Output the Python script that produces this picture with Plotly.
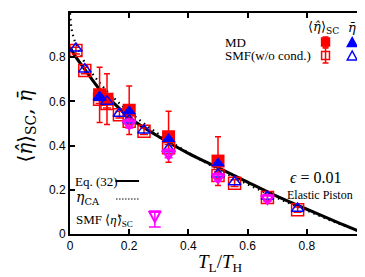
import plotly.graph_objects as go

# ---------------- data ----------------
# Eq. (32) theoretical curve (solid)
eq32_x = [0.0, 0.02, 0.05, 0.1, 0.15, 0.2, 0.3, 0.4, 0.5, 0.6, 0.7, 0.8, 0.9, 1.0]
eq32_y = [0.845, 0.80, 0.745, 0.655, 0.59, 0.527, 0.44, 0.365, 0.30, 0.235, 0.17, 0.112, 0.055, 0.0]

# Curzon-Ahlborn efficiency (dotted)
ca_x = [0.0, 0.005, 0.01, 0.02, 0.05, 0.1, 0.15, 0.2, 0.3, 0.4, 0.5, 0.6, 0.7, 0.8, 0.9, 1.0]
ca_y = [1.0, 0.93, 0.90, 0.86, 0.776, 0.684, 0.613, 0.553, 0.452, 0.368, 0.293, 0.225, 0.163, 0.106, 0.051, 0.0]

# MD <eta>_SC (filled squares with error bars)
md_sc_x = [0.1, 0.125, 0.2, 0.333, 0.5]
md_sc_y = [0.63, 0.61, 0.56, 0.44, 0.33]
md_sc_err = [0.125, 0.115, 0.11, 0.115, 0.11]

# MD eta-bar (filled triangles)
md_bar_x = [0.1, 0.2, 0.333, 0.5]
md_bar_y = [0.615, 0.555, 0.43, 0.32]

# SMF (w/o cond.) <eta>_SC (open squares)
smf_x = [0.02, 0.05, 0.1, 0.125, 0.167, 0.2, 0.25, 0.333, 0.5, 0.556, 0.667, 0.769]
smf_sc_y = [0.83, 0.74, 0.61, 0.59, 0.54, 0.51, 0.465, 0.39, 0.265, 0.23, 0.165, 0.11]
smf_sc_err = [0.015, 0.015, 0.02, 0.02, 0.015, 0.015, 0.015, 0.015, 0.015, 0.015, 0.015, 0.012]

# SMF (w/o cond.) eta-bar (open triangles)
smf_bar_y = [0.84, 0.745, 0.62, 0.60, 0.545, 0.515, 0.47, 0.385, 0.27, 0.235, 0.17, 0.115]

# SMF <eta>_SC (magenta open down-triangles)
smfc_x = [0.2, 0.333, 0.5, 0.667]
smfc_y = [0.50, 0.365, 0.257, 0.162]
smfc_err = [0.02, 0.02, 0.018, 0.015]

tick_vals = [0, 0.2, 0.4, 0.6, 0.8, 1]
tick_text = ["0", "0.2", "0.4", "0.6", "0.8", "1"]

# ---------------- figure ----------------
W, H = 365, 277
L, R, T, B = 62, 3, 5, 51
RED = "#ff0000"
BLUE = "#0000ff"
MAG = "#ff00ff"
DOTS = "1.5px,4px"

fig = go.Figure()

fig.add_trace(go.Scatter(x=ca_x, y=ca_y, mode="lines", line=dict(color="black", width=2.2, dash=DOTS, shape="spline"), showlegend=False))
fig.add_trace(go.Scatter(x=eq32_x, y=eq32_y, mode="lines", line=dict(color="black", width=3, shape="spline"), showlegend=False))

fig.add_trace(go.Scatter(x=md_sc_x, y=md_sc_y, mode="markers",
                         marker=dict(symbol="square", size=13, color=RED),
                         error_y=dict(type="data", array=md_sc_err, color=RED, thickness=1.5, width=3),
                         showlegend=False))
fig.add_trace(go.Scatter(x=smf_x, y=smf_sc_y, mode="markers",
                         marker=dict(symbol="square-open", size=12, color=RED, line=dict(width=1.5, color=RED)),
                         error_y=dict(type="data", array=smf_sc_err, color=RED, thickness=1.5, width=4),
                         showlegend=False))
fig.add_trace(go.Scatter(x=md_bar_x, y=md_bar_y, mode="markers",
                         marker=dict(symbol="triangle-up", size=12, color=BLUE),
                         showlegend=False))
fig.add_trace(go.Scatter(x=smf_x, y=smf_bar_y, mode="markers",
                         marker=dict(symbol="triangle-up-open", size=11, color=BLUE, line=dict(width=1.5, color=BLUE)),
                         showlegend=False))
fig.add_trace(go.Scatter(x=smfc_x, y=smfc_y, mode="markers",
                         marker=dict(symbol="triangle-down-open", size=11, color=MAG, line=dict(width=2.5, color=MAG)),
                         error_y=dict(type="data", array=smfc_err, color=MAG, thickness=1.5, width=4),
                         showlegend=False))

# helpers: pixel -> paper
def px(x):
    return (x - L) / (W - L - R)

def py(y):
    return (H - B - y) / (H - T - B)

shapes = []
annots = []
SERIF = "Liberation Serif"
MATH = "DejaVu Serif"

def sq(cx, cy, s, filled, color):
    shapes.append(dict(type="rect", xref="paper", yref="paper",
                       x0=px(cx - s / 2), x1=px(cx + s / 2), y0=py(cy + s / 2), y1=py(cy - s / 2),
                       line=dict(color=color, width=1.5), fillcolor=color if filled else "rgba(0,0,0,0)"))

def vbar(cx, y0, y1, color, cap=3):
    shapes.append(dict(type="line", xref="paper", yref="paper", x0=px(cx), x1=px(cx), y0=py(y0), y1=py(y1),
                       line=dict(color=color, width=1.5)))
    for yy in (y0, y1):
        shapes.append(dict(type="line", xref="paper", yref="paper", x0=px(cx - cap), x1=px(cx + cap), y0=py(yy), y1=py(yy),
                           line=dict(color=color, width=1.5)))

def tri(cx, cy, s, up, filled, color, lw=1.5):
    h = s * 0.9
    if up:
        pts = [(cx, cy - h / 2), (cx - s / 2, cy + h / 2), (cx + s / 2, cy + h / 2)]
    else:
        pts = [(cx, cy + h / 2), (cx - s / 2, cy - h / 2), (cx + s / 2, cy - h / 2)]
    path = "M " + " L ".join(f"{px(a):.5f},{py(b):.5f}" for a, b in pts) + " Z"
    shapes.append(dict(type="path", xref="paper", yref="paper", path=path,
                       line=dict(color=color, width=lw), fillcolor=color if filled else "rgba(0,0,0,0)"))

# top-right legend
vbar(321, 29, 39, RED)
sq(321, 34, 8, True, RED)
vbar(321, 40, 55, RED)
sq(321, 47.5, 8, False, RED)
tri(348, 34, 10, True, True, BLUE)
tri(348, 47.5, 10, True, False, BLUE)

# lower-left legend lines
shapes.append(dict(type="line", xref="paper", yref="paper", x0=px(108), x1=px(132), y0=py(173), y1=py(173),
                   line=dict(color="black", width=2)))
shapes.append(dict(type="line", xref="paper", yref="paper", x0=px(109), x1=px(132), y0=py(191), y1=py(191),
                   line=dict(color="black", width=1.5, dash="1px,2px")))
vbar(148, 203, 219, MAG, cap=6)
tri(148, 209, 11, False, False, MAG, lw=2)

def txt(x, y, s, size, xanchor="left", font=SERIF, **kw):
    annots.append(dict(x=px(x), y=py(y), xref="paper", yref="paper", text=s, showarrow=False,
                       xanchor=xanchor, yanchor="middle", font=dict(family=font, size=size, color="black"), **kw))

txt(319, 20, "⟨<i>η̂</i>⟩<sub>SC</sub>", 13, xanchor="center", font=MATH)
txt(348, 19, "<i>η̄</i>", 13, xanchor="center", font=MATH)
txt(217, 34, "MD", 13)
txt(217, 48, "SMF(w/o cond.)", 13)

txt(65, 173, "Eq. (32)", 13)
txt(66, 190, "<i>η</i><sub>CA</sub>", 14, font=MATH)
txt(66, 212, "SMF ⟨<i>η̂</i>⟩<sub>SC</sub>", 13)

txt(311, 169, "<i>ϵ</i> = 0.01", 16, xanchor="center")
txt(280, 187, "Elastic Piston", 12)

# axis titles
txt(215, 255, "<i>T</i><sub>L</sub>/<i>T</i><sub>H</sub>", 19, xanchor="center")
annots.append(dict(x=px(17), y=py(118), xref="paper", yref="paper", showarrow=False, textangle=-90,
                   text="⟨<i>η̂</i>⟩<sub>SC</sub>, <i>η̄</i>", xanchor="center", yanchor="middle",
                   font=dict(family=MATH, size=20, color="black")))

axis_common = dict(range=[0, 1], tickvals=tick_vals, ticktext=tick_text, showgrid=False, zeroline=False,
                   showline=True, linecolor="black", linewidth=2, mirror="ticks", ticks="inside",
                   ticklen=5, tickwidth=1.5, tickcolor="black",
                   tickfont=dict(family="Liberation Sans", size=12, color="black"))

fig.update_layout(width=W, height=H, margin=dict(l=L, r=R, t=T, b=B),
                  paper_bgcolor="white", plot_bgcolor="white",
                  xaxis=dict(**axis_common), yaxis=dict(**axis_common),
                  shapes=shapes, annotations=annots, showlegend=False)

fig.write_html("out.html")
